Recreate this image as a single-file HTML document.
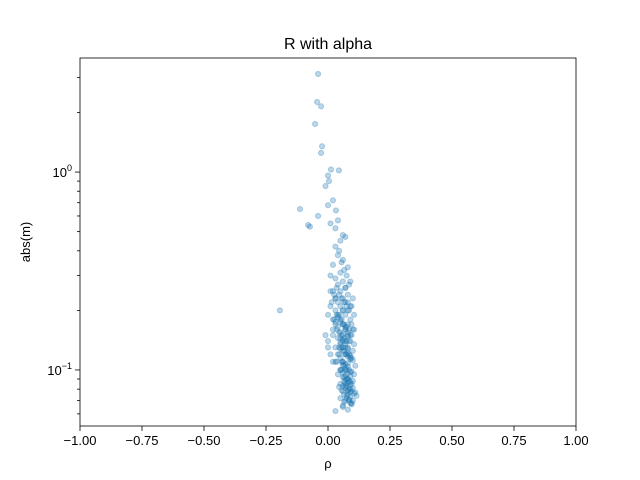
<!DOCTYPE html>
<html><head><meta charset="utf-8"><style>
html,body{margin:0;padding:0;background:#fff}
svg{display:block;font-family:"Liberation Sans","DejaVu Sans",sans-serif}
</style></head><body>
<svg id="chart" width="640" height="480" viewBox="0 0 640 480">
<rect width="640" height="480" fill="#fff"/>
<text x="328" y="49" font-size="16" text-anchor="middle">R with alpha</text>
<g id="points"></g>
<g id="axes"></g>
<rect x="80" y="58" width="496" height="368" fill="none" stroke="#000" stroke-width="0.8"/>
<text x="328" y="468" font-size="13" text-anchor="middle">ρ</text>
<text x="0" y="0" font-size="13" text-anchor="middle" transform="translate(30,242) rotate(-90)">abs(m)</text>
</svg>
<script>
const xTicks=[-1,-0.75,-0.5,-0.25,0,0.25,0.5,0.75,1];
const xTickLabels=["−1.00","−0.75","−0.50","−0.25","0.00","0.25","0.50","0.75","1.00"];
const yMajor=[0.1,1];
const yMinor=[0.06,0.07,0.08,0.09,0.2,0.3,0.4,0.5,0.6,0.7,0.8,0.9,2,3];
const rhoOutliers=[-0.04,-0.044,-0.028,-0.052,-0.024,-0.028,0.012,0.044,0.004,-0.113,-0.04,-0.073,-0.194,0.032,0.0,-0.01,0.02,-0.08,0.0,0.04,0.06,0.01,0.03];
const mOutliers=[3.13,2.26,2.15,1.75,1.35,1.25,1.03,1.02,0.9,0.65,0.6,0.53,0.2,0.64,0.96,0.85,0.72,0.54,0.68,0.57,0.48,0.55,0.52];
const rhoCluster=[0.05,0.03,0.07,0.04,0.06,0.02,0.08,0.05,0.01,0.03,0.06,0.09,0.04,0.07,0.02,0.05,0.08,0.03,0.06,0.10,0.04,0.07,0.01,0.05,0.09,0.03,0.06,0.08,0.04,0.07,0.02,0.05,0.09,0.03,0.06,0.08,0.04,0.07,0.10,0.05,0.02,0.06,0.08,0.04,0.07,0.09,0.05,0.03,0.06,0.08,0.10,0.04,0.07,0.05,0.09,0.03,0.06,0.08,0.11,0.05,0.07,0.09,0.04,0.06,0.08,0.10,0.05,0.07,0.09,0.06,0.11,0.08,0.05,0.07,0.09,0.06,0.08,0.03,
0.045,0.055,0.065,0.075,0.085,0.035,0.025,0.015,0.095,0.105,0.045,0.055,0.065,0.075,0.085,0.035,0.025,0.095,0.105,0.045,0.055,0.065,0.075,0.085,0.035,0.095,0.045,0.055,0.065,0.075,0.085,0.105,0.045,0.055,0.065,0.075,0.085,0.095,0.035,0.045,0.055,0.065,0.075,0.085,0.095,0.105,0.055,0.065,0.075,0.085,0.095,0.045,0.065,0.075,0.085,0.095,0.105,0.115,0.055,0.065,0.075,0.085,0.095,0.07,0.08,0.09,0.10,0.06,0.075,0.085,0.065,0.095,
0.04,0.05,0.06,0.07,0.08,0.09,0.05,0.06,0.07,0.08,0.05,0.06,0.07,0.08,0.09,0.06,0.07,0.08,0.05,0.06,0.07,0.08,0.09,0.06,0.07,0.08,0.09,0.07,0.08,0.06,0.05,0.07,0.08,0.09,0.1,0.06,0.07,0.08,0.09,0.07,0.08,0.09,0.1,0.07,0.08,0.06,0.02,0.0,0.01,0.03,-0.01,0.0,0.02,0.01,0.0,0.03];
const mCluster=[0.45,0.42,0.47,0.38,0.36,0.34,0.33,0.31,0.30,0.29,0.28,0.28,0.27,0.26,0.25,0.25,0.24,0.23,0.23,0.23,0.22,0.22,0.21,0.21,0.21,0.20,0.20,0.20,0.19,0.19,0.18,0.18,0.18,0.175,0.17,0.17,0.165,0.16,0.16,0.155,0.15,0.15,0.148,0.145,0.14,0.14,0.135,0.13,0.13,0.128,0.125,0.12,0.12,0.115,0.115,0.11,0.11,0.108,0.105,0.10,0.10,0.098,0.095,0.092,0.09,0.088,0.085,0.083,0.08,0.078,0.077,0.075,0.072,0.07,0.068,0.065,0.063,0.062,
0.40,0.35,0.32,0.30,0.27,0.26,0.24,0.22,0.21,0.19,0.24,0.23,0.22,0.21,0.20,0.19,0.18,0.17,0.16,0.19,0.18,0.17,0.165,0.16,0.16,0.15,0.155,0.15,0.145,0.14,0.14,0.135,0.13,0.13,0.125,0.12,0.12,0.115,0.11,0.12,0.11,0.105,0.10,0.10,0.098,0.095,0.10,0.092,0.09,0.088,0.085,0.082,0.087,0.083,0.08,0.078,0.076,0.074,0.079,0.075,0.072,0.07,0.068,0.085,0.078,0.073,0.07,0.066,0.074,0.071,0.069,0.067,
0.185,0.175,0.17,0.16,0.155,0.15,0.145,0.14,0.135,0.13,0.128,0.125,0.12,0.117,0.113,0.11,0.107,0.104,0.10,0.097,0.094,0.09,0.087,0.083,0.081,0.079,0.077,0.165,0.15,0.142,0.138,0.13,0.122,0.118,0.112,0.106,0.102,0.096,0.093,0.089,0.086,0.084,0.081,0.26,0.22,0.2,0.16,0.14,0.12,0.17,0.15,0.13,0.11,0.25,0.19,0.23];
const X0=80,X1=576,XMIN=-1,XMAX=1;
const Y0=58,Y1=426,LMIN=Math.log10(0.0521),LMAX=Math.log10(3.77);
function xs(v){return X0+(v-XMIN)/(XMAX-XMIN)*(X1-X0);}
function ys(v){return Y1-(Math.log10(v)-LMIN)/(LMAX-LMIN)*(Y1-Y0);}
const NS="http://www.w3.org/2000/svg";
const pg=document.getElementById('points');
const ag=document.getElementById('axes');
function dot(x,y){const c=document.createElementNS(NS,'circle');
c.setAttribute('cx',xs(x));c.setAttribute('cy',ys(y));c.setAttribute('r',2.6);
c.setAttribute('fill','rgba(31,119,180,0.3)');c.setAttribute('stroke','rgba(31,119,180,0.3)');c.setAttribute('stroke-width','1');


pg.appendChild(c);}
rhoOutliers.forEach((x,i)=>dot(x,mOutliers[i]));
rhoCluster.forEach((x,i)=>{if(i<mCluster.length)dot(x,mCluster[i]);});
function line(x1,y1,x2,y2,nm){const l=document.createElementNS(NS,'line');
l.setAttribute('x1',x1);l.setAttribute('y1',y1);l.setAttribute('x2',x2);l.setAttribute('y2',y2);
l.setAttribute('stroke','#000');l.setAttribute('stroke-width','0.8');


ag.appendChild(l);}
function txt(x,y,s,anchor,nm){const t=document.createElementNS(NS,'text');
t.setAttribute('x',x);t.setAttribute('y',y);t.setAttribute('font-size','13');t.setAttribute('text-anchor',anchor);
t.textContent=s;


ag.appendChild(t);return t;}
xTicks.forEach((v,i)=>{const x=xs(v);line(x,Y1,x,Y1+5,'x-tick');txt(x,Y1+19,xTickLabels[i],'middle','x-tick-label');});
yMajor.forEach(v=>{const y=ys(v);line(X0-5,y,X0,y,'y-tick');
const t=txt(X0-8,y+5,'','end','y-tick-label');
const b=document.createElementNS(NS,'tspan');b.textContent='10';t.appendChild(b);
const s=document.createElementNS(NS,'tspan');s.setAttribute('dy','-6');s.setAttribute('font-size','9');s.textContent=v===1?'0':'−1';t.appendChild(s);});
yMinor.forEach(v=>{const y=ys(v);line(X0-3,y,X0,y,'y-minor-tick');});
</script>
</body></html>
